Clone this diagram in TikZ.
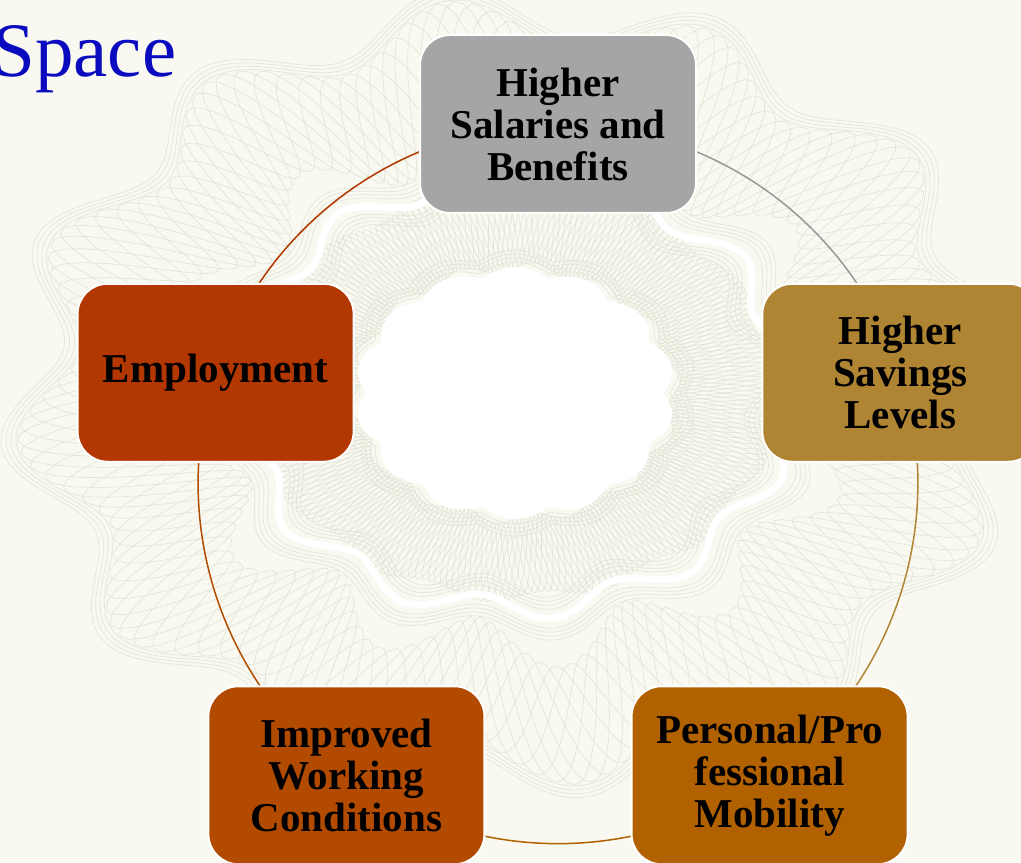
\documentclass[tikz,border=0pt]{standalone}
\usepackage{fontspec}
\setmainfont{Liberation Serif}
\usepackage{xcolor}
\usetikzlibrary{positioning}

\definecolor{paper}{HTML}{F9F9F2}
\definecolor{lace}{HTML}{E3E6D6}
\definecolor{titleblue}{HTML}{0A0ABF}
\definecolor{greybox}{HTML}{A5A5A5}
\definecolor{goldbox}{HTML}{AF8432}
\definecolor{amberbox}{HTML}{B16100}
\definecolor{burntbox}{HTML}{B24B00}
\definecolor{rustbox}{HTML}{B33700}

\pgfdeclarelayer{paper}
\pgfdeclarelayer{links}
\pgfsetlayers{paper,links,main}

\begin{document}
\begin{tikzpicture}[
  x=0.5pt, y=0.5pt,
  box/.style={draw=white, line width=1pt, rounded corners=15pt, minimum width=138pt, minimum height=89pt, align=center, inner sep=1pt, font=\bfseries\fontsize{20.5}{21}\selectfont},
  link/.style={line width=0.75pt, bend left=36, looseness=0.94},
  mesh/.style={draw=lace, line width=0.35pt}
]
\path[use as bounding box] (-558,-378) rectangle (463,484);

\node[box, fill=greybox] (salaries) at (90:360) {Higher\\Salaries and\\Benefits};
\node[box, fill=goldbox] (savings) at (18:360) {Higher\\Savings\\Levels};
\node[box, fill=amberbox] (mobility) at (-54:360) {Personal/Pro\\fessional\\Mobility};
\node[box, fill=burntbox] (conditions) at (-126:360) {Improved\\Working\\Conditions};
\node[box, fill=rustbox] (employment) at (162:360) {Employment};
\node[anchor=base west, inner sep=0pt, text=titleblue, font=\fontsize{38.5}{40}\selectfont] (title) at (-566,407) {Space};

% cycle arcs, hidden under the boxes
\begin{pgfonlayer}{links}
\draw[link, greybox!92!black] (salaries.center) to (savings.center);
\draw[link, goldbox] (savings.center) to (mobility.center);
\draw[link, amberbox] (mobility.center) to (conditions.center);
\draw[link, burntbox] (conditions.center) to (employment.center);
\draw[link, rustbox] (employment.center) to (salaries.center);
\end{pgfonlayer}

% guilloche background
\begin{pgfonlayer}{paper}
\clip (-558,-378) rectangle (463,484);
\fill[paper] (-558,-378) rectangle (463,484);
\begin{scope}[shift={(-43,91)}, xscale=1.27]
  \foreach \k in {0,...,7}
    \draw[mesh] plot[domain=0:360, samples=361, variable=\t] (\t:{310+25*sin(12*\t)+60*sin(20*\t+45*\k)});
  \foreach \k in {0,...,7}
    \draw[mesh] plot[domain=0:360, samples=541, variable=\t] (\t:{165+5*sin(14*\t)+40*sin(30*\t+45*\k)});
  \foreach \j in {0,4,...,12} {
    \draw[mesh] plot[domain=0:360, samples=361, variable=\t] (\t:{122+\j+9*abs(sin(7*\t))});
    \draw[mesh] plot[domain=0:360, samples=361, variable=\t] (\t:{206-\j+12*sin(12*\t)});
    \draw[mesh] plot[domain=0:360, samples=361, variable=\t] (\t:{225+\j+12*sin(12*\t)});
    \draw[mesh] plot[domain=0:360, samples=361, variable=\t] (\t:{383-\j+25*sin(12*\t)});
  }
  \draw[white, line width=3.5pt] plot[domain=0:360, samples=361, variable=\t] (\t:{215+12*sin(12*\t)}) -- cycle;
  \fill[white] plot[domain=0:360, samples=361, variable=\t] (\t:{117+9*abs(sin(7*\t))}) -- cycle;
\end{scope}
\end{pgfonlayer}
\end{tikzpicture}
\end{document}
